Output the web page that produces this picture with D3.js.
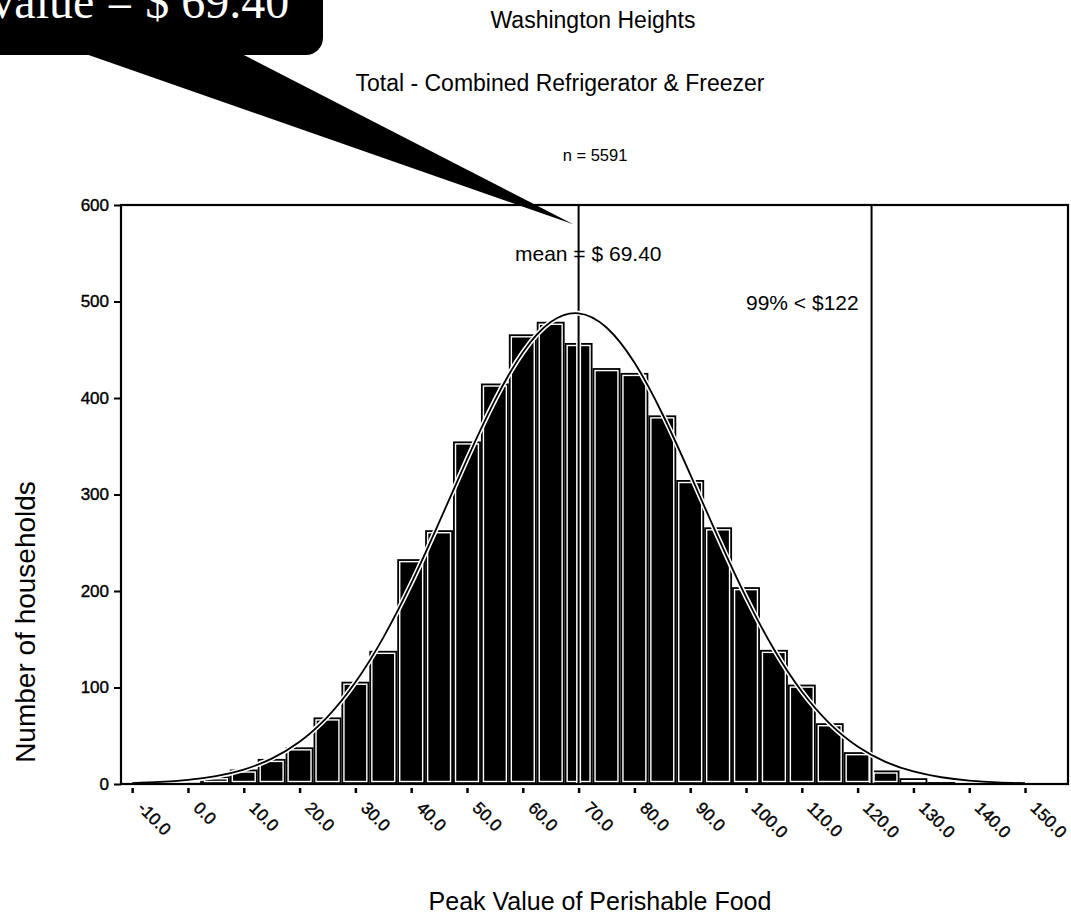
<!DOCTYPE html>
<html>
<head>
<meta charset="utf-8">
<script src="https://cdn.jsdelivr.net/npm/d3@7/dist/d3.min.js"></script>
<style>
  body { margin: 0; background: #fff; }
  svg { display: block; }
</style>
</head>
<body>
<svg id="chart"></svg>
<script>
// histogram of peak value of perishable food

const binCenters = [-5, 0, 5, 10, 15, 20, 25, 30, 35, 40, 45, 50, 55, 60, 65,
                    70, 75, 80, 85, 90, 95, 100, 105, 110, 115, 120, 125, 130, 135, 140];
const binCounts  = [1, 5, 8, 15, 26, 38, 69, 106, 138, 233, 263, 355, 415, 466, 479,
                    457, 431, 426, 382, 315, 266, 204, 139, 103, 63, 33, 14, 6, 2, 1];
const binWidth = 5;

// normal curve, read at every 5 dollars
const curveX = [-10, -5, 0, 5, 10, 15, 20, 25, 30, 35, 40, 45, 50, 55, 60, 65, 70,
                75, 80, 85, 90, 95, 100, 105, 110, 115, 120, 125, 130, 135, 140, 145, 150];
const curveY = [1.0, 2.1, 4.2, 8.1, 15.0, 26.3, 43.8, 69.6, 105.4, 151.7, 207.8, 271.1,
                336.5, 397.6, 447.2, 478.7, 487.8, 473.1, 436.7, 383.7, 320.9, 255.5,
                193.6, 139.6, 95.8, 62.6, 38.9, 23.0, 13.0, 7.0, 3.6, 1.7, 0.8];

const xTicks = [-10, 0, 10, 20, 30, 40, 50, 60, 70, 80, 90, 100, 110, 120, 130, 140, 150];
const yTicks = [0, 100, 200, 300, 400, 500, 600];

const refValues = [70, 122.5];
const refLabels = ["mean = $ 69.40", "99% < $122"];

const titleLines = ["Washington Heights", "Total - Combined Refrigerator & Freezer", "n = 5591"];
const xTitle = "Peak Value of Perishable Food";
const yTitle = "Number of households";
const calloutText = "Value = $ 69.40";
const calloutPoint = [69.4, 580];

const width = 1071, height = 923;
const margin = {top: 205, right: 3, bottom: 139, left: 121};
const sans = "Arial, 'Liberation Sans', sans-serif";

const svg = d3.select("#chart")
    .attr("width", width)
    .attr("height", height)
    .attr("viewBox", [0, 0, width, height])
    .style("font-family", sans);

const x = d3.scaleLinear()
    .domain([-12, 157.7])
    .range([margin.left, width - margin.right]);

const y = d3.scaleLinear()
    .domain([0, 600])
    .range([height - margin.bottom, margin.top]);

svg.append("clipPath")
    .attr("id", "plot")
  .append("rect")
    .attr("x", margin.left)
    .attr("y", margin.top)
    .attr("width", width - margin.left - margin.right)
    .attr("height", height - margin.top - margin.bottom);

const plot = svg.append("g").attr("clip-path", "url(#plot)");

// bars: black with a white inner outline
const bins = binCenters.map((c, i) => ({x0: c - binWidth / 2, x1: c + binWidth / 2, n: binCounts[i]}));

const bar = plot.append("g")
  .selectAll("g")
  .data(bins)
  .join("g");

bar.append("rect")
    .attr("x", d => x(d.x0))
    .attr("y", d => y(d.n))
    .attr("width", d => x(d.x1) - x(d.x0))
    .attr("height", d => y(0) - y(d.n))
    .attr("fill", "#000");

bar.filter(d => y(0) - y(d.n) > 4).append("rect")
    .attr("x", d => x(d.x0) + 2.5)
    .attr("y", d => y(d.n) + 2.5)
    .attr("width", d => x(d.x1) - x(d.x0) - 5)
    .attr("height", d => Math.max(y(0) - y(d.n) - 5, 0.5))
    .attr("fill", "none")
    .attr("stroke", "#fff")
    .attr("stroke-width", 1.4);

// reference lines (mean and 99th percentile)
refValues.forEach(v => {
  plot.append("line")
      .attr("x1", x(v)).attr("x2", x(v))
      .attr("y1", y(600)).attr("y2", y(0))
      .attr("stroke", "#fff")
      .attr("stroke-width", 5);
  plot.append("line")
      .attr("x1", x(v)).attr("x2", x(v))
      .attr("y1", y(600)).attr("y2", y(0))
      .attr("stroke", "#000")
      .attr("stroke-width", 2);
});

// normal curve
const line = d3.line()
    .x((d, i) => x(curveX[i]))
    .y(d => y(d))
    .curve(d3.curveNatural);

plot.append("path")
    .attr("d", line(curveY))
    .attr("fill", "none")
    .attr("stroke", "#fff")
    .attr("stroke-width", 5);

plot.append("path")
    .attr("d", line(curveY))
    .attr("fill", "none")
    .attr("stroke", "#000")
    .attr("stroke-width", 1.8);

// frame
svg.append("rect")
    .attr("x", margin.left)
    .attr("y", margin.top)
    .attr("width", width - margin.left - margin.right)
    .attr("height", height - margin.top - margin.bottom)
    .attr("fill", "none")
    .attr("stroke", "#000")
    .attr("stroke-width", 2.2);

// axes
svg.append("g")
    .attr("transform", `translate(${margin.left},0)`)
    .call(d3.axisLeft(y).tickValues(yTicks).tickSize(7).tickPadding(5))
    .call(g => g.select(".domain").remove())
    .call(g => g.selectAll("line").attr("stroke-width", 2))
    .call(g => g.selectAll("text")
        .attr("font-size", 17)
        .attr("font-family", sans)
        .attr("fill", "#000")
        .attr("stroke", "#000")
        .attr("stroke-width", 0.4));

svg.append("g")
    .attr("transform", `translate(0,${y(0) + 4})`)
    .call(d3.axisBottom(x).tickValues(xTicks).tickSize(5).tickFormat(d => d.toFixed(1)))
    .call(g => g.select(".domain").remove())
    .call(g => g.selectAll("line").attr("stroke-width", 2.5))
    .call(g => g.selectAll("text")
        .attr("font-size", 17)
        .attr("font-family", sans)
        .attr("fill", "#000")
        .attr("stroke", "#000")
        .attr("stroke-width", 0.4)
        .attr("text-anchor", "start")
        .attr("x", 0).attr("y", 0).attr("dy", 0)
        .attr("transform", "translate(4,21) rotate(45)"));

// reference labels
svg.append("text")
    .attr("x", 515).attr("y", 261)
    .attr("font-size", 21)
    .text(refLabels[0]);

svg.append("text")
    .attr("x", 746).attr("y", 310)
    .attr("font-size", 21)
    .text(refLabels[1]);

// titles
svg.append("text")
    .attr("x", 593).attr("y", 28)
    .attr("text-anchor", "middle")
    .attr("font-size", 23)
    .text(titleLines[0]);

svg.append("text")
    .attr("x", 560).attr("y", 91)
    .attr("text-anchor", "middle")
    .attr("font-size", 23)
    .text(titleLines[1]);

svg.append("text")
    .attr("x", 595).attr("y", 161)
    .attr("text-anchor", "middle")
    .attr("font-size", 16.5)
    .text(titleLines[2]);

svg.append("text")
    .attr("x", 600).attr("y", 910)
    .attr("text-anchor", "middle")
    .attr("font-size", 25)
    .text(xTitle);

svg.append("text")
    .attr("transform", "translate(35,622) rotate(-90)")
    .attr("text-anchor", "middle")
    .attr("font-size", 28)
    .text(yTitle);

// callout balloon pointing at the mean
const tip = [x(calloutPoint[0]) - 2, y(calloutPoint[1])];
const callout = svg.append("g");

callout.append("path")
    .attr("d", `M80,52 L238,52 L${tip[0]},${tip[1]} Z`)
    .attr("fill", "#000");

callout.append("rect")
    .attr("x", -30).attr("y", -40)
    .attr("width", 353).attr("height", 95)
    .attr("rx", 17)
    .attr("fill", "#000");

callout.append("text")
    .attr("x", -15).attr("y", 18)
    .attr("font-family", "'Liberation Serif', 'Times New Roman', serif")
    .attr("font-size", 48)
    .attr("fill", "#fff")
    .text(calloutText);
</script>
</body>
</html>
